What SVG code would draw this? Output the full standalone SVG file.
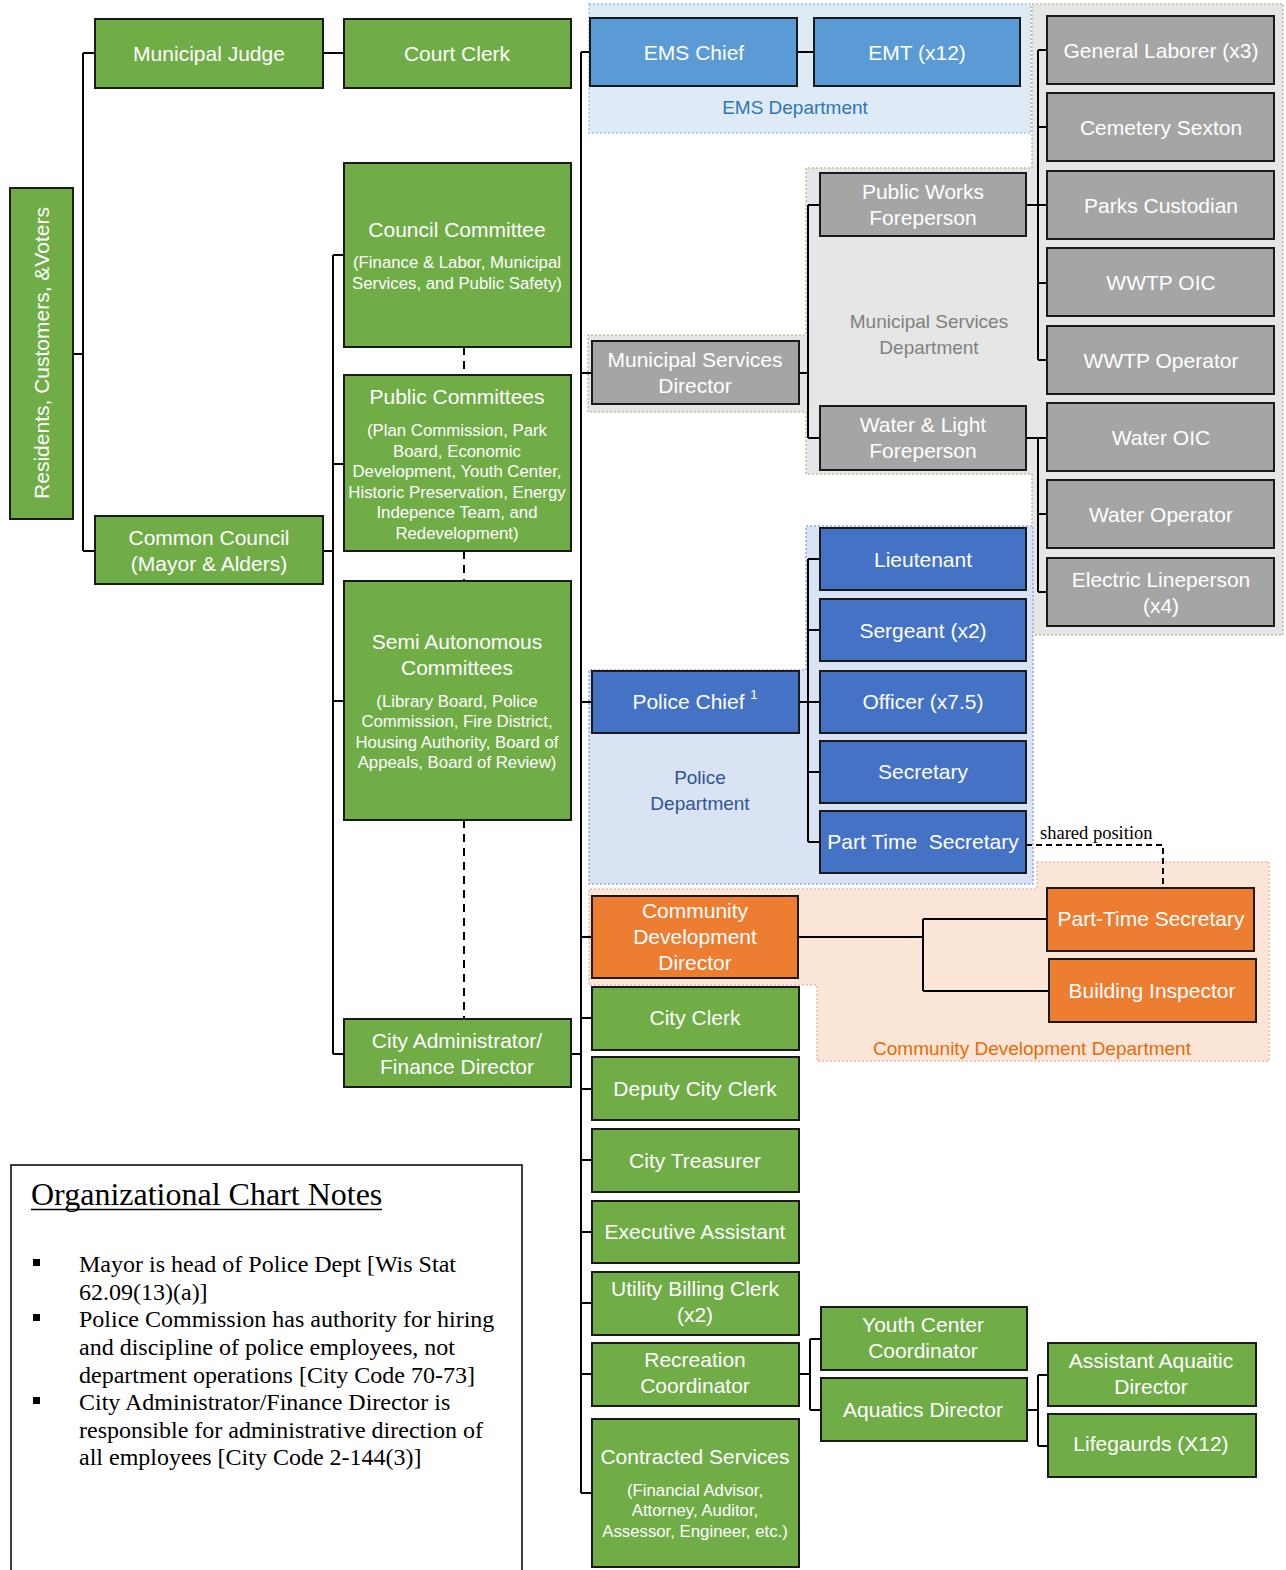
<svg xmlns="http://www.w3.org/2000/svg" width="1286" height="1570" viewBox="0 0 1286 1570">
<style>
.n{stroke:#1a1a1a;stroke-width:2}
.g{fill:#70ad47}.gr{fill:#a5a5a5}.b{fill:#4472c4}.lb{fill:#5b9bd5}.o{fill:#ed7d31}
.t{font-family:"Liberation Sans",Arial,sans-serif;font-size:21px;fill:#fff;text-anchor:middle;dominant-baseline:central}
.s{font-size:16.8px}
.d{font-family:"Liberation Sans",Arial,sans-serif;font-size:19px;text-anchor:middle;dominant-baseline:central}
.c{fill:none;stroke:#000;stroke-width:2}
.dash{fill:none;stroke:#000;stroke-width:2;stroke-dasharray:8 6}
.nt{font-family:"Liberation Serif","Times New Roman",serif;font-size:24px;fill:#000}
.ttl{font-size:32px}
</style>
<rect width="1286" height="1570" fill="#fff"/>
<g id="departments">
<rect x="589" y="4" width="442" height="129" fill="#deebf7" stroke="#9dc3e6" stroke-width="1.5" stroke-dasharray="2 2"/>
<path d="M1032 4H1283V635H1032V474H806V412H588V335H806V168H1032Z" fill="#e7e6e6" stroke="#c9bc94" stroke-width="1.5" stroke-dasharray="2 2"/>
<path d="M806 526H1033V884H589V670H806Z" fill="#dae3f3" stroke="#8faadc" stroke-width="1.5" stroke-dasharray="2 2"/>
<path d="M1037 862H1269V1061H817V985H589V889H1037Z" fill="#fbe5d6" stroke="#f4b6b6" stroke-width="1.5" stroke-dasharray="2 2"/>
<text class="d" x="795" y="107" fill="#2e75b6">EMS Department</text>
<text class="d" x="929" y="321" fill="#7f7f7f">Municipal Services</text>
<text class="d" x="929" y="347" fill="#7f7f7f">Department</text>
<text class="d" x="700" y="777" fill="#2f5597">Police</text>
<text class="d" x="700" y="803" fill="#2f5597">Department</text>
<text class="d" x="1032" y="1048" fill="#e46c0a">Community Development Department</text>
</g>
<g id="connectors">
<path class="c" d="M73 354H83M83 53V551M83 53H95M83 551H95"/>
<path class="c" d="M322 53H344"/>
<path class="c" d="M322 551H333M333 255V1054M333 255H344M333 464H344M333 701H344M333 1054H344"/>
<path class="dash" d="M464 347V375M464 551V581M464 820V1019"/>
<path class="c" d="M571 1054H581"/>
<path class="c" stroke-width="2.5" d="M581 52V1493"/>
<path class="c" d="M581 52H590M581 373H592M581 702H592M581 937H592M581 1018H592M581 1089H592M581 1160H592M581 1232H592M581 1303H592M581 1374H592M581 1493H592"/>
<path class="c" d="M797 52H814"/>
<path class="c" d="M799 373H808M808 205V438M808 205H820M808 438H820"/>
<path class="c" d="M1026 205H1038M1038 50V360M1038 50H1047M1038 127H1047M1038 205H1047M1038 283H1047M1038 360H1047"/>
<path class="c" d="M1026 438H1038M1038 438V592M1038 438H1047M1038 514H1047M1038 592H1047"/>
<path class="c" d="M799 702H808M808 559V842M808 559H820M808 630H820M808 702H820M808 772H820M808 842H820"/>
<path class="c" d="M798 937H923M923 919V991M923 919H1047M923 991H1049"/>
<path class="c" d="M799 1374H810M810 1339V1410M810 1339H821M810 1410H821"/>
<path class="c" d="M1027 1410H1038M1038 1375V1446M1038 1375H1048M1038 1446H1048"/>
<path class="c" stroke-dasharray="6 4" d="M1026 845H1163V888"/>
<text x="1040" y="839" font-family="'Liberation Serif','Times New Roman',serif" font-size="18.5" fill="#000">shared position</text>
</g>
<g id="residents"><rect class="n g" x="10" y="188" width="63" height="331"/><text class="t" transform="translate(41 353) rotate(-90)">Residents, Customers, &amp;Voters</text></g>
<g id="municipal-judge"><rect class="n g" x="95" y="19" width="228" height="69"/><text class="t" x="209" y="53">Municipal Judge</text></g>
<g id="court-clerk"><rect class="n g" x="344" y="19" width="227" height="69"/><text class="t" x="457" y="53">Court Clerk</text></g>
<g id="common-council"><rect class="n g" x="95" y="516" width="228" height="68"/><text class="t" x="209" y="537">Common Council</text><text class="t" x="209" y="563">(Mayor &amp; Alders)</text></g>
<g id="council-committee"><rect class="n g" x="344" y="163" width="227" height="184"/><text class="t" x="457" y="229">Council Committee</text><text class="t s" x="457" y="262">(Finance &amp; Labor, Municipal</text><text class="t s" x="457" y="283">Services, and Public Safety)</text></g>
<g id="public-committees"><rect class="n g" x="344" y="375" width="227" height="176"/><text class="t" x="457" y="396">Public Committees</text><text class="t s" x="457" y="430">(Plan Commission, Park</text><text class="t s" x="457" y="451">Board, Economic</text><text class="t s" x="457" y="471">Development, Youth Center,</text><text class="t s" x="457" y="492">Historic Preservation, Energy</text><text class="t s" x="457" y="512">Indepence Team, and</text><text class="t s" x="457" y="533">Redevelopment)</text></g>
<g id="semi-autonomous"><rect class="n g" x="344" y="581" width="227" height="239"/><text class="t" x="457" y="641">Semi Autonomous</text><text class="t" x="457" y="667">Committees</text><text class="t s" x="457" y="701">(Library Board, Police</text><text class="t s" x="457" y="721">Commission, Fire District,</text><text class="t s" x="457" y="742">Housing Authority, Board of</text><text class="t s" x="457" y="762">Appeals, Board of Review)</text></g>
<g id="city-administrator"><rect class="n g" x="344" y="1019" width="227" height="68"/><text class="t" x="457" y="1040">City Administrator/</text><text class="t" x="457" y="1066">Finance Director</text></g>
<g id="ems-chief"><rect class="n lb" x="590" y="18" width="207" height="68"/><text class="t" x="694" y="52">EMS Chief</text></g>
<g id="emt"><rect class="n lb" x="814" y="18" width="206" height="68"/><text class="t" x="917" y="52">EMT (x12)</text></g>
<g id="general-laborer"><rect class="n gr" x="1047" y="16" width="227" height="68"/><text class="t" x="1161" y="50">General Laborer (x3)</text></g>
<g id="cemetery-sexton"><rect class="n gr" x="1047" y="93" width="227" height="68"/><text class="t" x="1161" y="127">Cemetery Sexton</text></g>
<g id="parks-custodian"><rect class="n gr" x="1047" y="171" width="227" height="68"/><text class="t" x="1161" y="205">Parks Custodian</text></g>
<g id="wwtp-oic"><rect class="n gr" x="1047" y="248" width="227" height="68"/><text class="t" x="1161" y="282">WWTP OIC</text></g>
<g id="wwtp-operator"><rect class="n gr" x="1047" y="326" width="227" height="68"/><text class="t" x="1161" y="360">WWTP Operator</text></g>
<g id="water-oic"><rect class="n gr" x="1047" y="403" width="227" height="68"/><text class="t" x="1161" y="437">Water OIC</text></g>
<g id="water-operator"><rect class="n gr" x="1047" y="480" width="227" height="68"/><text class="t" x="1161" y="514">Water Operator</text></g>
<g id="electric-lineperson"><rect class="n gr" x="1047" y="558" width="227" height="68"/><text class="t" x="1161" y="579">Electric Lineperson</text><text class="t" x="1161" y="605">(x4)</text></g>
<g id="public-works-foreperson"><rect class="n gr" x="820" y="173" width="206" height="63"/><text class="t" x="923" y="191">Public Works</text><text class="t" x="923" y="217">Foreperson</text></g>
<g id="water-light-foreperson"><rect class="n gr" x="820" y="406" width="206" height="64"/><text class="t" x="923" y="424">Water &amp; Light</text><text class="t" x="923" y="450">Foreperson</text></g>
<g id="municipal-services-director"><rect class="n gr" x="592" y="341" width="207" height="63"/><text class="t" x="695" y="359">Municipal Services</text><text class="t" x="695" y="385">Director</text></g>
<g id="police-chief"><rect class="n b" x="592" y="671" width="207" height="62"/><text class="t" x="695" y="701">Police Chief <tspan font-size="13" dy="-7">1</tspan></text></g>
<g id="lieutenant"><rect class="n b" x="820" y="528" width="206" height="62"/><text class="t" x="923" y="559">Lieutenant</text></g>
<g id="sergeant"><rect class="n b" x="820" y="599" width="206" height="62"/><text class="t" x="923" y="630">Sergeant (x2)</text></g>
<g id="officer"><rect class="n b" x="820" y="671" width="206" height="62"/><text class="t" x="923" y="701">Officer (x7.5)</text></g>
<g id="secretary"><rect class="n b" x="820" y="741" width="206" height="62"/><text class="t" x="923" y="771">Secretary</text></g>
<g id="part-time-secretary-police"><rect class="n b" x="820" y="811" width="206" height="62"/><text class="t" x="923" y="841">Part Time&#160; Secretary</text></g>
<g id="community-development-director"><rect class="n o" x="592" y="896" width="206" height="82"/><text class="t" x="695" y="910">Community</text><text class="t" x="695" y="936">Development</text><text class="t" x="695" y="962">Director</text></g>
<g id="part-time-secretary-cd"><rect class="n o" x="1047" y="888" width="207" height="63"/><text class="t" x="1151" y="918">Part-Time Secretary</text></g>
<g id="building-inspector"><rect class="n o" x="1049" y="959" width="207" height="63"/><text class="t" x="1152" y="990">Building Inspector</text></g>
<g id="city-clerk"><rect class="n g" x="592" y="987" width="207" height="63"/><text class="t" x="695" y="1017">City Clerk</text></g>
<g id="deputy-city-clerk"><rect class="n g" x="592" y="1057" width="207" height="63"/><text class="t" x="695" y="1088">Deputy City Clerk</text></g>
<g id="city-treasurer"><rect class="n g" x="592" y="1129" width="207" height="63"/><text class="t" x="695" y="1160">City Treasurer</text></g>
<g id="executive-assistant"><rect class="n g" x="592" y="1201" width="207" height="62"/><text class="t" x="695" y="1231">Executive Assistant</text></g>
<g id="utility-billing-clerk"><rect class="n g" x="592" y="1272" width="207" height="63"/><text class="t" x="695" y="1288">Utility Billing Clerk</text><text class="t" x="695" y="1314">(x2)</text></g>
<g id="recreation-coordinator"><rect class="n g" x="592" y="1343" width="207" height="63"/><text class="t" x="695" y="1359">Recreation</text><text class="t" x="695" y="1385">Coordinator</text></g>
<g id="contracted-services"><rect class="n g" x="592" y="1419" width="207" height="148"/><text class="t" x="695" y="1456">Contracted Services</text><text class="t s" x="695" y="1490">(Financial Advisor,</text><text class="t s" x="695" y="1510">Attorney, Auditor,</text><text class="t s" x="695" y="1531">Assessor, Engineer, etc.)</text></g>
<g id="youth-center-coordinator"><rect class="n g" x="821" y="1307" width="206" height="63"/><text class="t" x="923" y="1324">Youth Center</text><text class="t" x="923" y="1350">Coordinator</text></g>
<g id="aquatics-director"><rect class="n g" x="821" y="1378" width="206" height="63"/><text class="t" x="923" y="1409">Aquatics Director</text></g>
<g id="assistant-aquatic-director"><rect class="n g" x="1048" y="1343" width="208" height="63"/><text class="t" x="1151" y="1360">Assistant Aquaitic</text><text class="t" x="1151" y="1386">Director</text></g>
<g id="lifeguards"><rect class="n g" x="1048" y="1414" width="208" height="63"/><text class="t" x="1151" y="1443">Lifegaurds (X12)</text></g>
<g id="notes">
<rect x="11" y="1165" width="511" height="420" fill="#fff" stroke="#000" stroke-width="1.5"/>
<text class="nt ttl" x="31" y="1205">Organizational Chart Notes</text>
<path d="M31 1209.5H382" stroke="#000" stroke-width="1.5"/>
<rect x="33" y="1259" width="7" height="7" fill="#000"/>
<rect x="33" y="1314" width="7" height="7" fill="#000"/>
<rect x="33" y="1397" width="7" height="7" fill="#000"/>
<text class="nt" x="79" y="1272">Mayor is head of Police Dept [Wis Stat</text>
<text class="nt" x="79" y="1300">62.09(13)(a)]</text>
<text class="nt" x="79" y="1327">Police Commission has authority for hiring</text>
<text class="nt" x="79" y="1355">and discipline of police employees, not</text>
<text class="nt" x="79" y="1383">department operations [City Code 70-73]</text>
<text class="nt" x="79" y="1410">City Administrator/Finance Director is</text>
<text class="nt" x="79" y="1438">responsible for administrative direction of</text>
<text class="nt" x="79" y="1465">all employees [City Code 2-144(3)]</text>
</g>
</svg>
